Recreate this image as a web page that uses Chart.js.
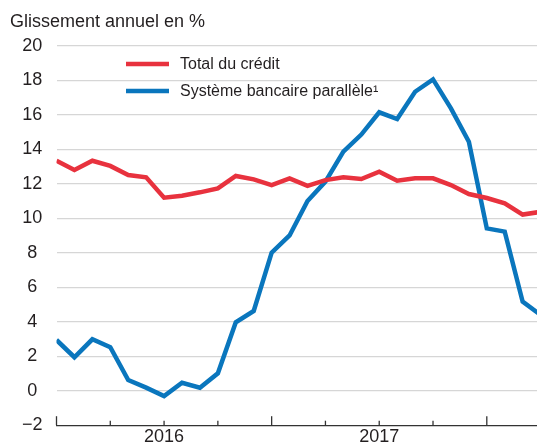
<!DOCTYPE html>
<html>
<head>
<meta charset="utf-8">
<script src="https://cdn.jsdelivr.net/npm/chart.js@4.4.1/dist/chart.umd.min.js"></script>
<style>
html,body{margin:0;padding:0;background:#fff;}
canvas{display:block;}
</style>
</head>
<body>
<canvas id="c" width="537" height="444"></canvas>
<script>
// ---- data (monthly, Jan 2016 .. Apr 2018) ----
const months = ['2016-01','2016-02','2016-03','2016-04','2016-05','2016-06','2016-07','2016-08','2016-09','2016-10','2016-11','2016-12',
                '2017-01','2017-02','2017-03','2017-04','2017-05','2017-06','2017-07','2017-08','2017-09','2017-10','2017-11','2017-12',
                '2018-01','2018-02','2018-03','2018-04'];
const totalCredit = [13.33,12.79,13.33,13.03,12.50,12.37,11.19,11.30,11.50,11.73,12.45,12.25,
                     11.92,12.31,11.87,12.21,12.37,12.27,12.70,12.17,12.31,12.31,11.92,11.40,
                     11.17,10.86,10.21,10.37];
const shadowBanking = [2.94,1.94,2.98,2.52,0.62,0.18,-0.31,0.46,0.17,1.01,3.97,4.62,
                       8.00,9.00,11.00,12.12,13.86,14.85,16.14,15.75,17.33,18.05,16.37,14.43,
                       9.41,9.22,5.16,4.40];
const seriesNames = ['Total du crédit', 'Système bancaire parallèle¹'];
const yTicks = [-2,0,2,4,6,8,10,12,14,16,18,20];
const quarterTicks = [0,3,6,9,12,15,18,21,24];
const yearStarts = [0,12,24];
const yearLabels = [{at:6, text:'2016'}, {at:18, text:'2017'}];
const yAxisTitle = 'Glissement annuel en %';

const RED = '#e8323e';
const BLUE = '#0a76bd';
const TEXT = '#231f20';
const FONT = "'Liberation Sans', Arial, Helvetica, sans-serif";

Chart.defaults.font.family = FONT;
Chart.defaults.color = TEXT;

const toXY = arr => arr.map((v, i) => ({x: months.indexOf(months[i]), y: v}));

const decorPlugin = {
  id: 'decor',
  afterDraw(chart) {
    const ctx = chart.ctx;
    const xs = chart.scales.x;
    const bottom = chart.chartArea.bottom;
    ctx.save();
    // inward tick marks on the x axis
    ctx.strokeStyle = '#333';
    ctx.lineWidth = 1.3;
    quarterTicks.forEach(v => {
      const px = xs.getPixelForValue(v);
      const len = yearStarts.includes(v) ? 9 : 4.5;
      ctx.beginPath();
      ctx.moveTo(px, bottom);
      ctx.lineTo(px, bottom - len);
      ctx.stroke();
    });
    // axis title (top-left)
    ctx.fillStyle = TEXT;
    ctx.font = "18px " + FONT;
    ctx.textAlign = 'left';
    ctx.textBaseline = 'alphabetic';
    ctx.fillText(yAxisTitle, 10, 27);
    // legend
    ctx.font = "16px " + FONT;
    ctx.textBaseline = 'middle';
    chart.data.datasets.forEach((ds, i) => {
      const y = 64 + i * 27;
      ctx.strokeStyle = ds.borderColor;
      ctx.lineWidth = 4.5;
      ctx.lineCap = 'butt';
      ctx.beginPath();
      ctx.moveTo(126, y);
      ctx.lineTo(169, y);
      ctx.stroke();
      ctx.fillStyle = TEXT;
      ctx.fillText(ds.label, 180, y + 0.5);
    });
    ctx.restore();
  }
};

new Chart(document.getElementById('c'), {
  type: 'line',
  data: {
    datasets: [
      {label: seriesNames[0], data: toXY(totalCredit), borderColor: RED, backgroundColor: RED,
       borderWidth: 4.5, pointRadius: 0, tension: 0, fill: false},
      {label: seriesNames[1], data: toXY(shadowBanking), borderColor: BLUE, backgroundColor: BLUE,
       borderWidth: 4.5, pointRadius: 0, tension: 0, fill: false}
    ]
  },
  options: {
    responsive: false,
    animation: false,
    events: [],
    layout: {padding: {top: 45.7, left: 0, right: 0, bottom: 0}},
    plugins: {legend: {display: false}, tooltip: {enabled: false}, title: {display: false}},
    scales: {
      x: {
        type: 'linear', min: 0, max: 26.8,
        afterBuildTicks: s => { s.ticks = quarterTicks.map(v => ({value: v})); },
        grid: {display: false, drawTicks: false},
        border: {display: true, color: '#333', width: 1.3},
        ticks: {
          autoSkip: false, maxRotation: 0, padding: 1,
          font: {size: 18}, color: TEXT,
          callback: v => { const l = yearLabels.find(o => o.at === v); return l ? l.text : ''; }
        },
        afterFit: s => { s.height = 18.8; s.paddingLeft = 0; s.paddingRight = 0; }
      },
      y: {
        min: -2, max: 20,
        afterBuildTicks: s => { s.ticks = yTicks.map(v => ({value: v})); },
        grid: {
          color: c => (c.tick && c.tick.value === -2) ? 'rgba(0,0,0,0)' : '#d6d6d6',
          lineWidth: 1.3, drawTicks: false
        },
        border: {display: false},
        ticks: {
          crossAlign: 'center', padding: 14,
          font: {size: 18}, color: TEXT,
          callback: v => String(v).replace('-', '\u2212')
        },
        afterFit: s => { s.width = 56.5; s.paddingTop = 0; s.paddingBottom = 0; }
      }
    }
  },
  plugins: [decorPlugin]
});
</script>
</body>
</html>
